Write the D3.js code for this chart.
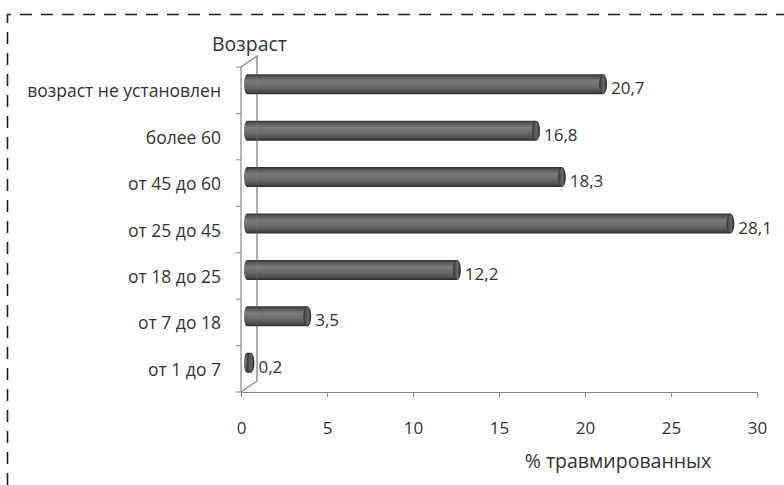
<!DOCTYPE html>
<html>
<head>
<meta charset="utf-8">
<script src="https://cdn.jsdelivr.net/npm/d3@7/dist/d3.min.js"></script>
<style>
  html, body { margin: 0; padding: 0; background: #fff; }
  svg { display: block; }
  text { font-family: "Open Sans", "DejaVu Sans", sans-serif; fill: #333; }
</style>
</head>
<body>
<svg id="chart" width="784" height="485"></svg>
<script>
// Age groups, top to bottom, and share of injured (%)
const categories = [
  "возраст не установлен",
  "более 60",
  "от 45 до 60",
  "от 25 до 45",
  "от 18 до 25",
  "от 7 до 18",
  "от 1 до 7"
];
const values = [20.7, 16.8, 18.3, 28.1, 12.2, 3.5, 0.2];
const xTicks = [0, 5, 10, 15, 20, 25, 30];
const xTitle = "% травмированных";
const yTitle = "Возраст";

const svg = d3.select("#chart");
const W = 784, H = 485;

const ru = d3.formatLocale({ decimal: ",", thousands: " ", grouping: [3], currency: ["", " ₽"] });
const fmt = ru.format(".1f");

const x = d3.scaleLinear().domain([0, 30]).range([241, 757]);
const y = d3.scaleBand().domain(categories).range([67, 392]).padding(0);

// depth offset of the pseudo-3D floor/wall
const depthX = 16, depthY = -11;
const barDX = 6, barDY = -6, barH = 20;

// dashed frame (open on the right and bottom)
svg.append("path")
  .attr("d", `M7.5,${H} V14.5 H${W}`)
  .attr("fill", "none")
  .attr("stroke", "#1e1e1e")
  .attr("stroke-width", 1.6)
  .attr("stroke-dasharray", "12,9");

// gradient for the cylinders
const defs = svg.append("defs");
const g = defs.append("linearGradient").attr("id", "cyl").attr("x1", 0).attr("y1", 0).attr("x2", 0).attr("y2", 1);
[[0, "#2e2e2e"], [0.12, "#555"], [0.35, "#7a7a7a"], [0.6, "#6c6c6c"], [0.85, "#505050"], [1, "#2a2a2a"]]
  .forEach(([o, c]) => g.append("stop").attr("offset", o).attr("stop-color", c));
const gc = defs.append("linearGradient").attr("id", "cap").attr("x1", 0).attr("y1", 0).attr("x2", 1).attr("y2", 0);
[[0, "#3a3a3a"], [0.6, "#6a6a6a"], [1, "#2a2a2a"]]
  .forEach(([o, c]) => gc.append("stop").attr("offset", o).attr("stop-color", c));

const axisColor = "#868686";
const x0 = x(0), yTop = y.range()[0], yBot = y.range()[1];

// back wall and floor edges
svg.append("path")
  .attr("d", `M${x0},${yTop} L${x0 + depthX},${yTop + depthY} L${x0 + depthX},${yBot + depthY} L${x0},${yBot}`)
  .attr("fill", "none").attr("stroke", axisColor).attr("stroke-width", 1.2);

// bars
const bars = svg.append("g");
categories.forEach((c, i) => {
  const v = values[i];
  const cy = y(c) + y.bandwidth() / 2 + barDY;
  const xa = x(0) + barDX, xb = x(v) + barDX;
  const ry = barH / 2;
  bars.append("path")
    .attr("d", `M${xa},${cy - ry} H${xb} A4,${ry} 0 0 1 ${xb},${cy + ry} H${xa} A3,${ry} 0 0 1 ${xa},${cy - ry} Z`)
    .attr("fill", "url(#cyl)");
  bars.append("ellipse")
    .attr("cx", xb).attr("cy", cy).attr("rx", 3.5).attr("ry", ry - 0.5)
    .attr("fill", "url(#cap)").attr("stroke", "#333").attr("stroke-width", 0.6);
  svg.append("text")
    .attr("x", xb + 8).attr("y", cy + 10)
    .attr("font-size", 17)
    .text(fmt(v));
});

// front wall line over the bars
svg.append("line")
  .attr("x1", x0 + depthX).attr("x2", x0 + depthX)
  .attr("y1", yTop + depthY).attr("y2", yBot + depthY)
  .attr("stroke", axisColor).attr("stroke-opacity", 0.35);

// y axis
const yAxis = svg.append("g").attr("transform", `translate(${x0},0)`);
yAxis.append("line").attr("y1", yTop).attr("y2", yBot).attr("stroke", axisColor).attr("stroke-width", 1.2);
d3.range(categories.length + 1).forEach(k => {
  const yy = yTop + k * y.bandwidth();
  yAxis.append("line").attr("x1", -5).attr("x2", 0).attr("y1", yy).attr("y2", yy).attr("stroke", axisColor);
});
categories.forEach(c => {
  svg.append("text")
    .attr("x", 221).attr("y", y(c) + y.bandwidth() / 2 + 7)
    .attr("text-anchor", "end").attr("font-size", 17.5)
    .text(c);
});

// x axis
const xAxis = d3.axisBottom(x).tickValues(xTicks).tickSize(5).tickPadding(25).tickFormat(d3.format("d"));
const gx = svg.append("g").attr("transform", `translate(0,${yBot})`).call(xAxis);
gx.select(".domain").attr("stroke", axisColor).attr("stroke-width", 1.2);
gx.selectAll(".tick line").attr("stroke", axisColor);
gx.selectAll(".tick text").attr("font-size", 17).attr("fill", "#333")
  .attr("font-family", "Open Sans, DejaVu Sans, sans-serif");

// titles
svg.append("text").attr("x", 212).attr("y", 51).attr("font-size", 19.5).text(yTitle);
svg.append("text").attr("x", 618).attr("y", 468).attr("text-anchor", "middle").attr("font-size", 19.5).text(xTitle);
</script>
</body>
</html>
